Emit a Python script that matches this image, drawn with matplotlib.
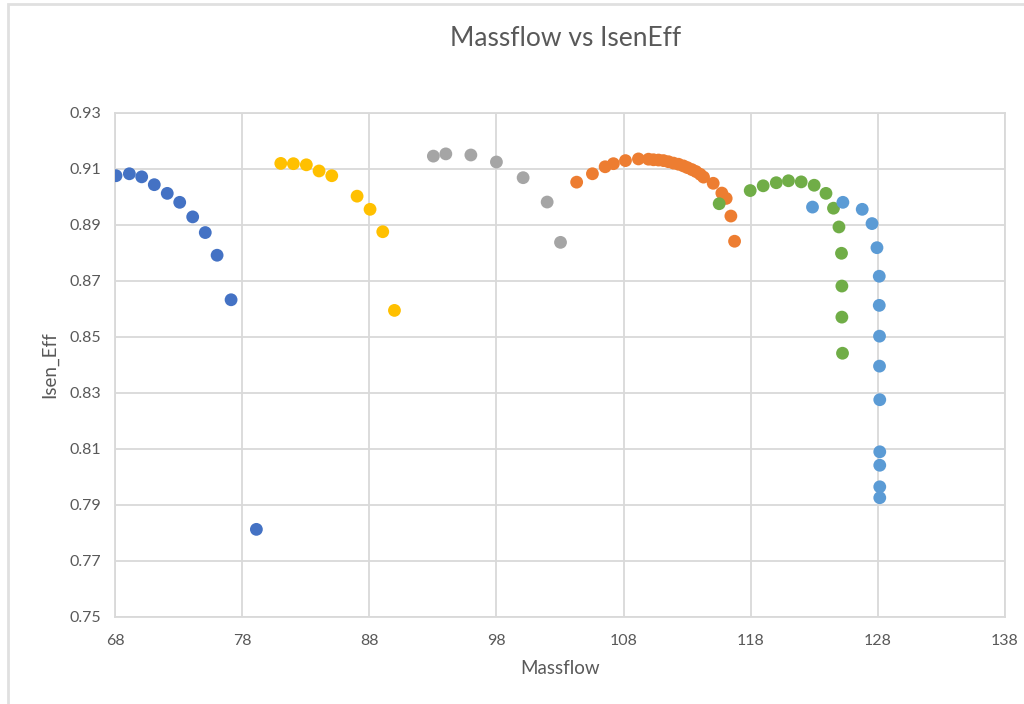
import matplotlib
matplotlib.use("Agg")
import matplotlib.pyplot as plt
from matplotlib.patches import Rectangle

# series (Massflow, Isen_Eff)
s1_x = [68.08, 69.13, 70.10, 71.09, 72.11, 73.09, 74.11, 75.10, 76.03, 77.13, 79.12]
s1_y = [0.9076, 0.9083, 0.9072, 0.9044, 0.9013, 0.8981, 0.8929, 0.8873, 0.8792, 0.8633, 0.7813]

s2_x = [81.04, 82.03, 83.05, 84.05, 85.05, 87.04, 88.06, 89.06, 89.98]
s2_y = [0.9120, 0.9119, 0.9115, 0.9093, 0.9076, 0.9003, 0.8956, 0.8876, 0.8595]

s3_x = [93.04, 94.02, 95.99, 98.00, 100.10, 101.99, 103.04]
s3_y = [0.9146, 0.9154, 0.9150, 0.9125, 0.9069, 0.8982, 0.8838]

s4_x = [104.31, 105.55, 106.55, 107.20, 108.15, 109.17, 109.96, 110.35, 110.75, 111.14,
        111.53, 111.93, 112.32, 112.71, 113.02, 113.37, 113.69, 114.03, 114.29, 115.05,
        115.73, 116.07, 116.44, 116.73]
s4_y = [0.9053, 0.9083, 0.9108, 0.9119, 0.9130, 0.9136, 0.9135, 0.9133, 0.9132, 0.9130,
        0.9126, 0.9121, 0.9117, 0.9111, 0.9105, 0.9098, 0.9091, 0.9081, 0.9071, 0.9049,
        0.9014, 0.8995, 0.8932, 0.8842]

s5_x = [115.52, 117.96, 118.98, 120.01, 120.97, 121.97, 122.99, 123.92, 124.51, 124.94,
        125.14, 125.17, 125.17, 125.22]
s5_y = [0.8976, 0.9023, 0.9040, 0.9051, 0.9058, 0.9054, 0.9042, 0.9013, 0.8960, 0.8893,
        0.8799, 0.8682, 0.8571, 0.8442]

s6_x = [122.86, 125.25, 126.77, 127.54, 127.93, 128.11, 128.11, 128.13, 128.13, 128.15,
        128.15, 128.15, 128.15, 128.15]
s6_y = [0.8964, 0.8981, 0.8956, 0.8905, 0.8819, 0.8717, 0.8613, 0.8503, 0.8396, 0.8276,
        0.8090, 0.8042, 0.7965, 0.7926]

x_ticks = [68, 78, 88, 98, 108, 118, 128, 138]
y_ticks = [0.75, 0.77, 0.79, 0.81, 0.83, 0.85, 0.87, 0.89, 0.91, 0.93]

series = [
    (s1_x, s1_y, "#4472C4"),
    (s2_x, s2_y, "#FFC000"),
    (s3_x, s3_y, "#A5A5A5"),
    (s4_x, s4_y, "#ED7D31"),
    (s5_x, s5_y, "#70AD47"),
    (s6_x, s6_y, "#5B9BD5"),
]

plt.rcParams["font.family"] = ["Lato", "DejaVu Sans"]
grid_col = "#d9d9d9"
text_col = "#595959"

fig = plt.figure(figsize=(10.24, 7.04), dpi=100)
ax = fig.add_axes([115 / 1024, 1 - 617 / 704, 890 / 1024, 504 / 704])

for xs, ys, col in series:
    ax.scatter(xs, ys, s=85, color=col, edgecolors="none", zorder=3)

ax.set_xlim(68, 138)
ax.set_ylim(0.75, 0.93)
ax.set_xticks(x_ticks)
ax.set_yticks(y_ticks)
ax.set_xticklabels([str(v) for v in x_ticks])
ax.set_yticklabels([f"{v:.2f}" for v in y_ticks])
ax.tick_params(length=0, labelsize=11.5, colors=text_col)
ax.tick_params(axis="x", pad=12)
ax.tick_params(axis="y", pad=10)
ax.grid(True, color=grid_col, linewidth=1.3)
ax.set_axisbelow(True)
for sp in ax.spines.values():
    sp.set_color(grid_col)
    sp.set_linewidth(1.3)

ax.set_xlabel("Massflow", fontsize=13.5, color=text_col, labelpad=9)
ax.set_ylabel("Isen_Eff", fontsize=13.5, color=text_col, labelpad=8)
fig.text(566 / 1024, 1 - 38 / 704, "Massflow vs IsenEff", fontsize=19,
         color=text_col, ha="center", va="center")

# chart frame border as in the screenshot
fig.patches.append(Rectangle((8 / 1024, -0.1), 1.2, 1.1 - 4 / 704,
                             transform=fig.transFigure, fill=False,
                             edgecolor="#e0e0e0", linewidth=2))

fig.savefig("out.png", dpi=100, facecolor="white")
